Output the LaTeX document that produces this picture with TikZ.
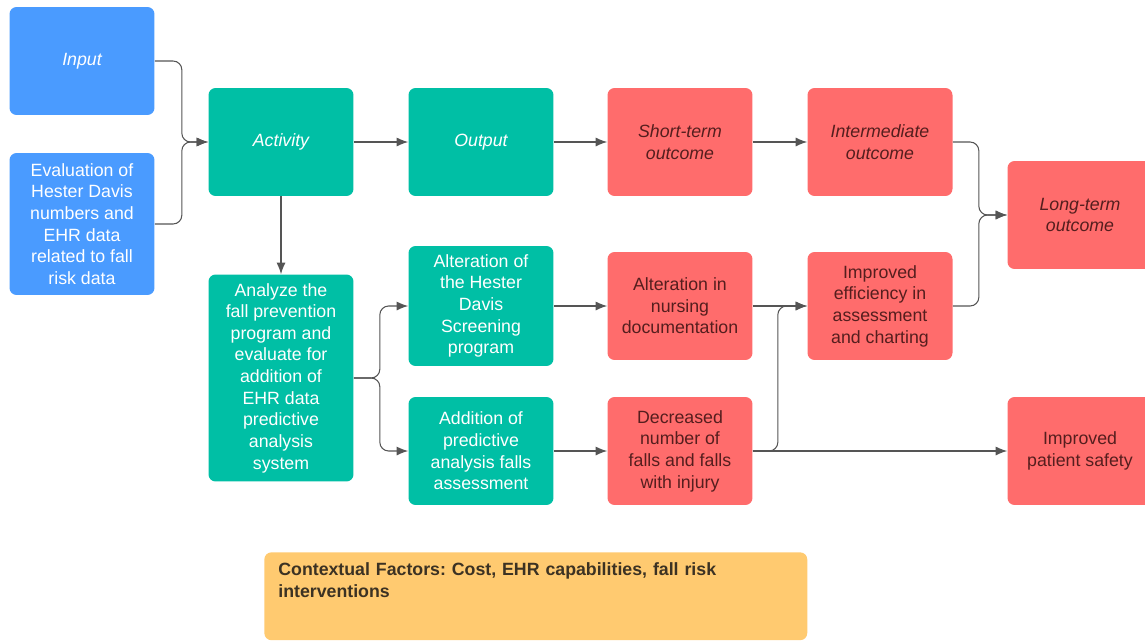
\documentclass[tikz,border=0pt]{standalone}
\usepackage{fontspec}
\setmainfont{Liberation Sans}
\usetikzlibrary{arrows.meta}
\frenchspacing
\definecolor{boxBlue}{RGB}{74,155,255}
\definecolor{boxTeal}{RGB}{0,191,165}
\definecolor{boxRed}{RGB}{255,108,108}
\definecolor{boxOrange}{RGB}{255,202,112}
\definecolor{redText}{RGB}{85,30,30}
\definecolor{ctxText}{RGB}{60,50,35}
\definecolor{linkGray}{RGB}{85,85,85}

\begin{document}
\begin{tikzpicture}[x=0.02cm, y=-0.02cm, font=\fontsize{10.1}{12.3}\selectfont,
  box/.style={rounded corners=4pt, align=center, inner sep=2pt, minimum width=2.9cm, minimum height=2.16cm},
  inBox/.style={box, fill=boxBlue, text=white},
  actBox/.style={box, fill=boxTeal, text=white},
  outBox/.style={box, fill=boxRed, text=redText},
  link/.style={-{Latex[length=2.3mm, width=1.8mm]}, draw=linkGray, line width=0.6pt, rounded corners=5pt}]

\clip (0,0) rectangle (1145,642);

% Inputs
\node (input) at (82,61) [inBox] {\itshape Input};
\node (eval) at (82,224) [inBox, minimum height=2.84cm] {Evaluation of\\Hester Davis\\numbers and\\EHR data\\related to fall\\risk data};

% Activities and outputs
\node (activity) at (281,142) [actBox] {\itshape Activity};
\node (analyze) at (281,378) [actBox, minimum height=4.14cm] {Analyze the\\fall prevention\\program and\\evaluate for\\addition of\\EHR data\\predictive\\analysis\\system};
\node (output) at (481,142) [actBox] {\itshape Output};
\node (hester) at (481,306) [actBox, minimum height=2.4cm] {Alteration of\\the Hester\\Davis\\Screening\\program};
\node (predict) at (481,451) [actBox] {Addition of\\predictive\\analysis falls\\assessment};

% Outcomes
\node (short) at (680,142) [outBox] {\itshape Short-term\\\itshape outcome};
\node (nursing) at (680,306) [outBox] {Alteration in\\nursing\\documentation};
\node (falls) at (680,451) [outBox] {Decreased\\number of\\falls and falls\\with injury};
\node (inter) at (880,142) [outBox] {\itshape Intermediate\\\itshape outcome};
\node (effic) at (880,306) [outBox] {Improved\\efficiency in\\assessment\\and charting};
\node (long) at (1080,215) [outBox] {\itshape Long-term\\\itshape outcome};
\node (safety) at (1080,451) [outBox] {Improved\\patient safety};

% Context
\node (context) at (264,552) [anchor=north west, rounded corners=4pt, fill=boxOrange, text=ctxText,
    minimum width=10.86cm, inner xsep=0.28cm, inner ysep=0.2cm, text width=10.3cm, align=left, text depth=1.1cm,
    font=\fontsize{10.1}{12.8}\selectfont\bfseries] {Contextual Factors: Cost, EHR capabilities, fall risk\\interventions};

% Links
\draw [link] (input.east) -- ++(27,0) |- (activity.west);
\draw [link] (eval.east) -- ++(27,0) |- (activity.west);
\draw [link] (activity) -- (output);
\draw [link] (output) -- (short);
\draw [link] (short) -- (inter);
\draw [link] (activity) -- (analyze);
\draw [link] (analyze.east) -- ++(26,0) |- (hester.west);
\draw [link] (analyze.east) -- ++(26,0) |- (predict.west);
\draw [link] (hester) -- (nursing);
\draw [link] (predict) -- (falls);
\draw [link] (nursing) -- (effic);
\draw [link] (falls.east) -- ++(25,0) |- (effic.west);
\draw [link] (falls) -- (safety.west);
\draw [link] (inter.east) -- ++(26,0) |- (long.west);
\draw [link] (effic.east) -- ++(26,0) |- (long.west);

\end{tikzpicture}
\end{document}
